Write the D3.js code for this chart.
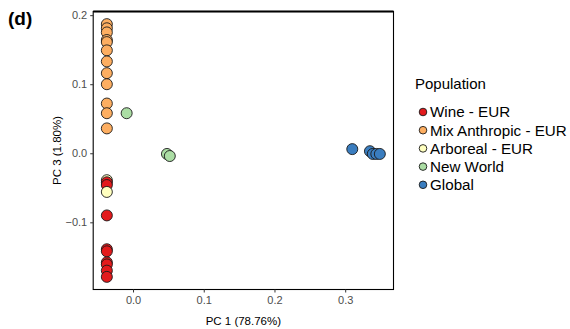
<!DOCTYPE html>
<html>
<head>
<meta charset="utf-8">
<script src="https://cdn.jsdelivr.net/npm/d3@7"></script>
<style>
  body { margin: 0; background: #fff; }
  text { font-family: "Liberation Sans", Arial, sans-serif; }
</style>
</head>
<body>
<div id="chart"></div>
<script>
// Populations, in legend order
const populations = ["Wine - EUR", "Mix Anthropic - EUR", "Arboreal - EUR", "New World", "Global"];
const colors = ["#e31a1c", "#fdae61", "#ffffbf", "#abdda4", "#3a7dbf"];

// PCA scores (PC1, PC3)
const winePC1 = [-0.037, -0.037, -0.037, -0.037, -0.037, -0.037, -0.037, -0.037, -0.037];
const winePC3 = [-0.042, -0.046, -0.090, -0.139, -0.142, -0.158, -0.161, -0.170, -0.179];
const mixPC1 = [-0.037, -0.037, -0.037, -0.037, -0.037, -0.037, -0.037, -0.037, -0.037, -0.037, -0.037, -0.037];
const mixPC3 = [0.187, 0.181, 0.175, 0.164, 0.161, 0.149, 0.133, 0.116, 0.100, 0.072, 0.058, 0.036];
const arborealPC1 = [-0.037, -0.037];
const arborealPC3 = [-0.039, -0.056];
const newWorldPC1 = [-0.009, 0.048, 0.052];
const newWorldPC3 = [0.058, -0.001, -0.004];
const globalPC1 = [0.310, 0.335, 0.339, 0.344, 0.349];
const globalPC3 = [0.006, 0.003, -0.001, -0.001, -0.001];

const xTicks = [0.0, 0.1, 0.2, 0.3];
const yTicks = [-0.1, 0.0, 0.1, 0.2];

// Draw order (later on top)
const groups = [
  {pop: "Global", x: globalPC1, y: globalPC3},
  {pop: "New World", x: newWorldPC1, y: newWorldPC3},
  {pop: "Mix Anthropic - EUR", x: mixPC1, y: mixPC3},
  {pop: "Arboreal - EUR", x: arborealPC1.slice(0, 1), y: arborealPC3.slice(0, 1)},
  {pop: "Wine - EUR", x: winePC1, y: winePC3},
  {pop: "Arboreal - EUR", x: arborealPC1.slice(1), y: arborealPC3.slice(1)}
];
const points = groups.flatMap(g => g.x.map((v, i) => ({pop: g.pop, pc1: v, pc3: g.y[i]})));

const W = 570, H = 329;
const panel = {left: 93.2, right: 393.5, top: 11.5, bottom: 289.5};

const svg = d3.select("#chart")
  .append("svg")
  .attr("width", W)
  .attr("height", H);

// ggplot-style 5% expansion
function expand(ext) {
  const d = (ext[1] - ext[0]) * 0.05;
  return [ext[0] - d, ext[1] + d];
}

const x = d3.scaleLinear()
  .domain(expand(d3.extent(points, d => d.pc1)))
  .range([panel.left, panel.right]);

const y = d3.scaleLinear()
  .domain(expand(d3.extent(points, d => d.pc3)))
  .range([panel.bottom, panel.top]);

const color = d3.scaleOrdinal().domain(populations).range(colors);

// Panel border
svg.append("rect")
  .attr("x", panel.left)
  .attr("y", panel.top)
  .attr("width", panel.right - panel.left)
  .attr("height", panel.bottom - panel.top)
  .attr("fill", "none")
  .attr("stroke", "#000")
  .attr("stroke-width", 1.1);
svg.append("line")
  .attr("x1", panel.left).attr("x2", panel.right)
  .attr("y1", panel.top).attr("y2", panel.top)
  .attr("stroke", "#000").attr("stroke-width", 2);

// Axes
const fmt = d3.format(".1f");
svg.append("g")
  .attr("transform", `translate(0,${panel.bottom})`)
  .call(d3.axisBottom(x).tickValues(xTicks).tickFormat(fmt).tickSize(3).tickPadding(4))
  .call(g => g.select(".domain").remove())
  .call(g => g.selectAll(".tick line").attr("stroke", "#333"))
  .call(g => g.selectAll(".tick text")
    .attr("fill", "#4d4d4d")
    .style("font-size", "11px")
    .style("font-family", "Liberation Sans, Arial, sans-serif"));

svg.append("g")
  .attr("transform", `translate(${panel.left},0)`)
  .call(d3.axisLeft(y).tickValues(yTicks).tickFormat(d => fmt(d).replace("-", "\u22120")).tickSize(3).tickPadding(3))
  .call(g => g.select(".domain").remove())
  .call(g => g.selectAll(".tick line").attr("stroke", "#333"))
  .call(g => g.selectAll(".tick text")
    .attr("fill", "#4d4d4d")
    .style("font-size", "11px")
    .style("font-family", "Liberation Sans, Arial, sans-serif"));

// Axis titles
svg.append("text")
  .attr("x", (panel.left + panel.right) / 2)
  .attr("y", 325)
  .attr("text-anchor", "middle")
  .style("font-size", "11.5px")
  .text("PC 1 (78.76%)");

svg.append("text")
  .attr("transform", `translate(61,${(panel.top + panel.bottom) / 2}) rotate(-90)`)
  .attr("text-anchor", "middle")
  .style("font-size", "11.5px")
  .text("PC 3 (1.80%)");

// Panel tag
svg.append("text")
  .attr("x", 8)
  .attr("y", 25)
  .style("font-size", "19px")
  .style("font-weight", "bold")
  .text("(d)");

// Points
svg.append("g")
  .selectAll("circle")
  .data(points)
  .join("circle")
  .attr("cx", d => x(d.pc1))
  .attr("cy", d => y(d.pc3))
  .attr("r", 5.5)
  .attr("fill", d => color(d.pop))
  .attr("stroke", "#1a1a1a")
  .attr("stroke-width", 0.9);

// Legend
const legend = svg.append("g")
  .attr("transform", "translate(415,0)");

legend.append("text")
  .attr("x", 0)
  .attr("y", 89)
  .style("font-size", "15px")
  .text("Population");

const row = legend.selectAll("g")
  .data(populations)
  .join("g")
  .attr("transform", (_, i) => `translate(0,${112 + i * 18.2})`);

row.append("circle")
  .attr("cx", 8)
  .attr("cy", 0)
  .attr("r", 3.8)
  .attr("fill", d => color(d))
  .attr("stroke", "#1a1a1a")
  .attr("stroke-width", 0.9);

row.append("text")
  .attr("x", 15)
  .attr("y", 5.3)
  .style("font-size", "15.2px")
  .text(d => d);
</script>
</body>
</html>
